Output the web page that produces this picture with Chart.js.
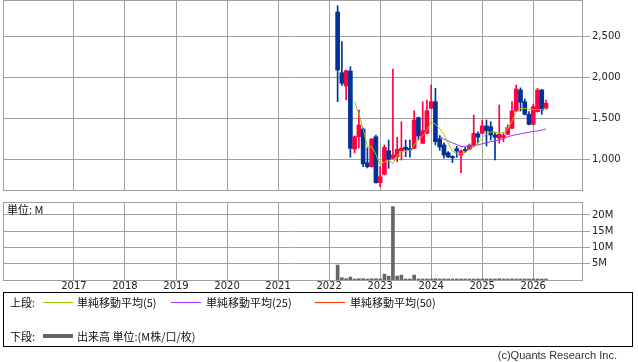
<!DOCTYPE html>
<html>
<head>
<meta charset="utf-8">
<script src="https://cdn.jsdelivr.net/npm/chart.js@4"></script>
<style>
  body { margin:0; background:#fff; width:638px; height:362px; position:relative; overflow:hidden;
         font-family:"Noto Sans CJK JP", sans-serif; color:#111; }
  canvas { position:absolute; left:0; }
  #price { top:0; }
  #vol { top:196px; }
  .unit { position:absolute; left:7px; top:203px; font-size:11px; line-height:12px; }
  #legend { position:absolute; left:3px; top:292px; width:628px; height:53px; border:1px solid #000; font-size:11px; }
  #legend .t { position:absolute; line-height:12px; white-space:nowrap; }
  #legend .ln { position:absolute; width:30px; height:0; }
  .copy { position:absolute; right:21px; top:349px; font:11px "Liberation Sans", sans-serif; color:#333; }
</style>
</head>
<body>
<canvas id="price" width="638" height="196"></canvas>
<canvas id="vol" width="638" height="100"></canvas>
<div class="unit">単位: M</div>
<div id="legend">
  <span class="t" style="left:6px;top:3px">上段:</span>
  <span class="ln" style="left:39px;top:9px;border-top:1px solid #99cc00"></span>
  <span class="t" style="left:73px;top:3px">単純移動平均(5)</span>
  <span class="ln" style="left:167px;top:9px;border-top:1px solid #9933ff"></span>
  <span class="t" style="left:202px;top:3px">単純移動平均(25)</span>
  <span class="ln" style="left:311px;top:9px;border-top:1px solid #ff3300"></span>
  <span class="t" style="left:346px;top:3px">単純移動平均(50)</span>
  <span class="t" style="left:6px;top:37px">下段:</span>
  <span class="ln" style="left:39px;top:41px;border-top:4px solid #666"></span>
  <span class="t" style="left:73px;top:37px">出来高 単位:(M株/口/枚)</span>
</div>
<div class="copy">(c)Quants Research Inc.</div>
<script>
// monthly candles
var months = ['2022-03','2022-04','2022-05','2022-06','2022-07','2022-08','2022-09','2022-10','2022-11','2022-12',
  '2023-01','2023-02','2023-03','2023-04','2023-05','2023-06','2023-07','2023-08','2023-09','2023-10','2023-11','2023-12',
  '2024-01','2024-02','2024-03','2024-04','2024-05','2024-06','2024-07','2024-08','2024-09','2024-10','2024-11','2024-12',
  '2025-01','2025-02','2025-03','2025-04','2025-05','2025-06','2025-07','2025-08','2025-09','2025-10','2025-11','2025-12',
  '2026-01','2026-02','2026-03','2026-04'];

var opens = [2792,2054,1892,2074,1126,1275,1369,959,911,1275,
  716,818,1105,1013,1032,1105,1147,1134,1134,1507,
  1195,1317,1621,1701,1250,1175,1080,1035,1130,1053,
  1120,1122,1171,1310,1317,1406,1397,1296,1256,1265,
  1305,1378,1588,1843,1701,1548,1426,1580,1843,1621];
var highs = [2868,2431,2085,2127,1285,1600,1380,1140,1250,1296,
  911,1175,1235,2099,1268,1458,1235,1235,1592,1515,
  1700,1720,1904,1864,1290,1200,1095,1045,1160,1114,
  1145,1187,1539,1336,1479,1479,1458,1330,1661,1320,
  1420,1701,1904,1870,1734,1580,1670,1864,1850,1722];
var lows = [1701,1900,1722,1025,1077,1140,910,895,905,710,
  667,810,891,1005,971,992,1032,1025,1130,1235,
  1190,1310,1615,1175,1110,1015,1020,960,1025,838,
  1080,1115,1155,1200,1310,1162,1235,992,1195,1215,
  1300,1370,1580,1588,1540,1420,1420,1575,1548,1610];
var closes = [2087,1925,2078,1134,1275,1418,944,911,1248,716,
  789,1147,1001,1053,1122,1134,1122,1114,1479,1284,
  1348,1592,1701,1215,1150,1053,1030,1018,1100,1102,
  1105,1171,1317,1270,1406,1348,1296,1268,1305,1290,
  1385,1588,1856,1694,1548,1426,1640,1843,1600,1682];

var ma5 = [null,null,null,null,1701,1550,1370,1150,1155,1060,
  935,970,985,950,1045,1090,1095,1110,1175,1240,
  1285,1350,1460,1425,1375,1300,1200,1095,1073,1065,
  1085,1120,1150,1195,1260,1310,1335,1328,1320,1322,
  1370,1465,1580,1615,1620,1610,1605,1608,1605,1625];
var ma25 = [null,null,null,null,null,null,null,null,null,null,
  null,null,null,null,null,null,null,null,null,null,
  null,null,null,null,1284,1245,1225,1200,1180,1157,
  1154,1154,1165,1175,1190,1200,1215,1225,1235,1250,
  1275,1290,1300,1310,1320,1330,1340,1345,1355,1370];

// volume, millions
var volumes = [4.6,0.7,0.4,0.9,0.15,0.4,0.4,0.15,0.4,0.4,
  0.15,1.8,1.2,22.6,1.2,1.5,0.1,0.1,1.5,0.3,
  0.1,0.3,0.1,0.4,0.1,0.1,0.1,0.1,0.1,0.1,
  0.1,0.1,0.1,0.1,0.1,0.1,0.1,0.1,0.4,0.1,
  0.1,0.1,0.1,0.1,0.1,0.1,0.1,0.1,0.1,0.1];

var yearTicks = [2017,2018,2019,2020,2021,2022,2023,2024,2025,2026];
var priceTicks = [1000,1500,2000,2500];
var volTicks = [5,10,15,20];

var UP = '#ff0040', DOWN = '#003399', GRID = '#a0a0a0';
var X_MIN = 2015.61, X_MAX = 2026.955;
var tickFont = { family: 'DejaVu Sans', size: 10 };

var xs = months.map(function (m) {
  var p = m.split('-');
  return +p[0] + (+p[1] - 1) / 12;
});
var candleColors = closes.map(function (c, i) { return c >= opens[i] ? UP : DOWN; });

// gray box round each panel
var frame = {
  id: 'frame',
  beforeDatasetsDraw: function (chart) {
    var a = chart.chartArea, ctx = chart.ctx;
    ctx.save();
    ctx.strokeStyle = GRID;
    ctx.lineWidth = 1;
    ctx.strokeRect(a.left + 0.5, a.top + 0.5, a.right - a.left, a.bottom - a.top);
    ctx.restore();
  }
};

function xScale(showLabels) {
  return {
    type: 'linear', min: X_MIN, max: X_MAX, offset: false,
    afterBuildTicks: function (s) { s.ticks = yearTicks.map(function (v) { return { value: v }; }); },
    ticks: { display: showLabels, font: tickFont, color: '#222', padding: 0, maxRotation: 0, autoSkip: false,
             callback: function (v) { return String(v); } },
    grid: { color: GRID, drawTicks: false, offset: false },
    border: { display: false },
    afterFit: function (s) {
      s.height = showLabels ? 16 : 0;
      s.paddingLeft = 0; s.paddingRight = 0;
    }
  };
}

function yScale(min, max, ticks, fmt) {
  return {
    position: 'right', min: min, max: max,
    afterBuildTicks: function (s) { s.ticks = ticks.map(function (v) { return { value: v }; }); },
    ticks: { font: tickFont, color: '#222', padding: 2, callback: fmt },
    grid: { color: GRID, tickLength: 8 },
    border: { display: false },
    afterFit: function (s) {
      s.width = 56;
      s.paddingTop = 0; s.paddingBottom = 0;
    }
  };
}

new Chart(document.getElementById('price'), {
  type: 'bar',
  data: {
    datasets: [
      { type: 'line', data: xs.map(function (x, i) { return { x: x, y: ma5[i] }; }),
        borderColor: '#99cc00', borderWidth: 1, pointRadius: 0, order: 0 },
      { type: 'line', data: xs.map(function (x, i) { return { x: x, y: ma25[i] }; }),
        borderColor: '#9933ff', borderWidth: 1, pointRadius: 0, order: 0 },
      { data: xs.map(function (x, i) { return { x: x, y: [opens[i], closes[i]] }; }),
        backgroundColor: candleColors, barThickness: 4, minBarLength: 1, grouped: false, order: 1 },
      { data: xs.map(function (x, i) { return { x: x, y: [lows[i], highs[i]] }; }),
        backgroundColor: candleColors, barThickness: 1, grouped: false, order: 2 }
    ]
  },
  options: {
    responsive: false, animation: false, devicePixelRatio: 1,
    layout: { padding: { left: 3, top: 0, right: 0, bottom: 6 } },
    plugins: { legend: { display: false }, tooltip: { enabled: false } },
    scales: {
      x: xScale(false),
      y: yScale(627, 2938, priceTicks, function (v) { return v.toLocaleString('en-US'); })
    }
  },
  plugins: [frame]
});

new Chart(document.getElementById('vol'), {
  type: 'bar',
  data: {
    datasets: [
      { data: xs.map(function (x, i) { return { x: x, y: volumes[i] }; }),
        backgroundColor: '#666666', barThickness: 3, minBarLength: 1, grouped: false }
    ]
  },
  options: {
    responsive: false, animation: false, devicePixelRatio: 1,
    layout: { padding: { left: 3, top: 6, right: 0, bottom: 0 } },
    plugins: { legend: { display: false }, tooltip: { enabled: false } },
    scales: {
      x: xScale(true),
      y: yScale(0, 24, volTicks, function (v) { return v + 'M'; })
    }
  },
  plugins: [frame]
});
</script>
</body>
</html>
